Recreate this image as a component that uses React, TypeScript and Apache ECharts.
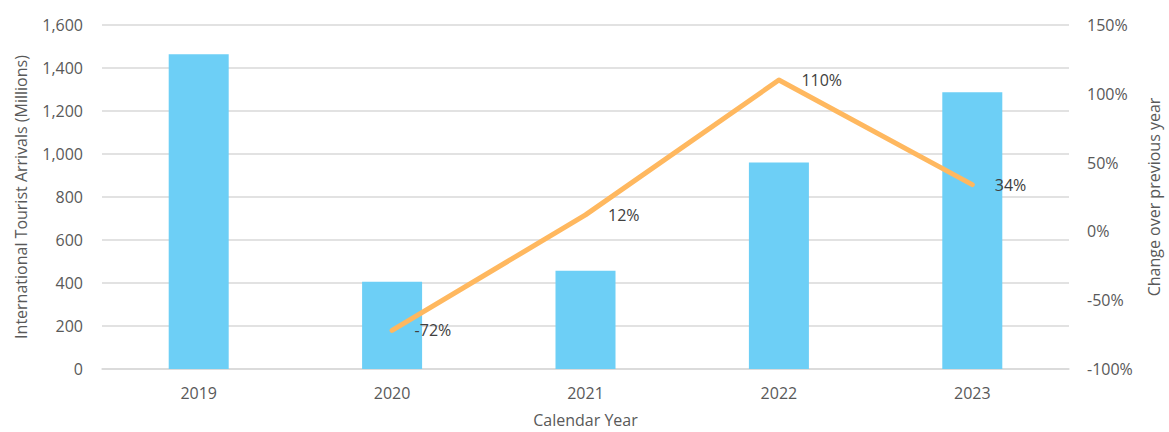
import React, { useEffect, useRef } from "react";
import * as echarts from "echarts";

const years = ["2019", "2020", "2021", "2022", "2023"];
const arrivals = [1464, 406, 457, 961, 1287];
const changePct: (number | null)[] = [null, -72, 12, 110, 34];

const FONT = "'Century Gothic', 'Open Sans', sans-serif";
const AXIS_COLOR = "#595959";

export default function App() {
  const ref = useRef<HTMLDivElement>(null);
  useEffect(() => {
    if (!ref.current) return;
    const chart = echarts.init(ref.current, undefined, { renderer: "svg" });
    chart.setOption({
      animation: false,
      textStyle: { fontFamily: FONT },
      grid: { left: 102, right: 100, top: 25, bottom: 63, outerBoundsMode: "none", containLabel: false },
      xAxis: {
        type: "category",
        data: years,
        name: "Calendar Year",
        nameLocation: "middle",
        nameGap: 43,
        nameTextStyle: { fontSize: 16, color: AXIS_COLOR, fontFamily: FONT },
        axisLine: { lineStyle: { color: "#D9D9D9", width: 1.5 } },
        axisTick: { show: false },
        axisLabel: { fontSize: 16, color: AXIS_COLOR, margin: 16, fontFamily: FONT },
      },
      yAxis: [
        {
          type: "value",
          min: 0,
          max: 1600,
          interval: 200,
          name: "International Tourist Arrivals (Millions)",
          nameLocation: "middle",
          nameGap: 73,
          nameTextStyle: { fontSize: 16, color: AXIS_COLOR, fontFamily: FONT },
          axisLine: { show: false },
          axisTick: { show: false },
          splitLine: { lineStyle: { color: "#D9D9D9", width: 1.5 } },
          axisLabel: {
            fontSize: 16,
            color: AXIS_COLOR,
            margin: 19,
            fontFamily: FONT,
            formatter: (v: number) => v.toLocaleString("en-US"),
          },
        },
        {
          type: "value",
          min: -100,
          max: 150,
          interval: 50,
          name: "Change over previous year",
          nameLocation: "middle",
          nameGap: 77,
          nameRotate: 90,
          nameTextStyle: { fontSize: 16, color: AXIS_COLOR, fontFamily: FONT },
          axisLine: { show: false },
          axisTick: { show: false },
          splitLine: { show: false },
          axisLabel: {
            fontSize: 16,
            color: AXIS_COLOR,
            margin: 18,
            fontFamily: FONT,
            formatter: (v: number) => v + "%",
          },
        },
      ],
      series: [
        {
          type: "bar",
          data: arrivals,
          barWidth: 60,
          itemStyle: { color: "#6DCFF6" },
          yAxisIndex: 0,
        },
        {
          type: "line",
          data: changePct,
          yAxisIndex: 1,
          symbol: "circle",
          symbolSize: 1,
          showSymbol: true,
          lineStyle: { color: "#FFB85F", width: 5, cap: "round", join: "round" },
          itemStyle: { color: "rgba(0,0,0,0)" },
          label: {
            show: true,
            position: "right",
            distance: 22,
            fontSize: 16,
            color: "#404040",
            fontFamily: FONT,
            formatter: (p: any) => p.value + "%",
          },
        },
      ],
    });
    return () => chart.dispose();
  }, []);
  return <div ref={ref} style={{ width: 1169, height: 432, position: "absolute", left: 0, top: 0 }} />;
}
